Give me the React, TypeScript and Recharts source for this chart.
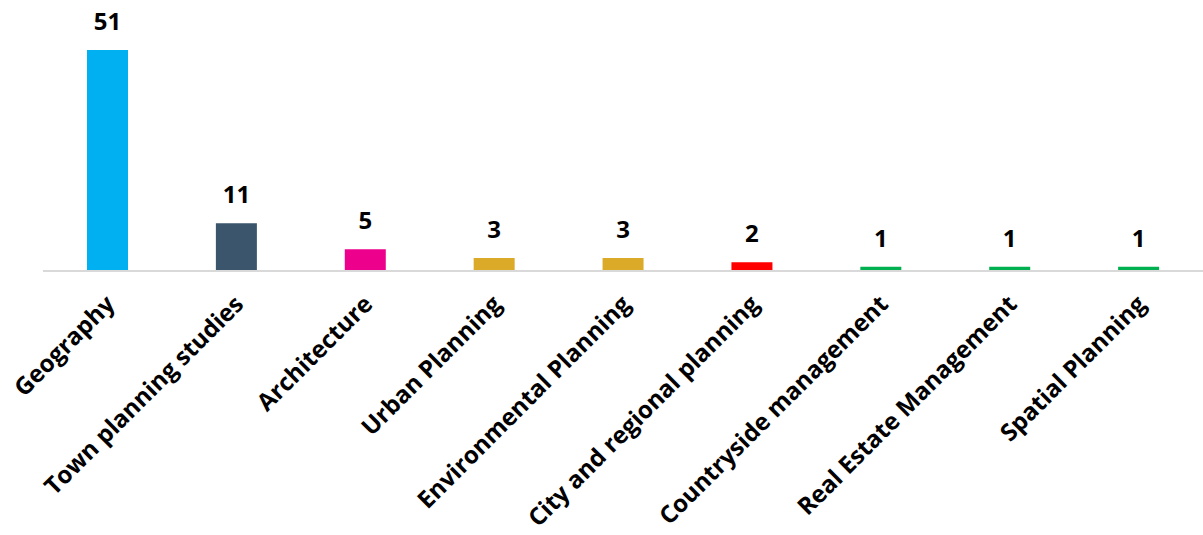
import React from 'react';
import { BarChart, Bar, XAxis, YAxis, Cell, LabelList } from 'recharts';

const categories = [
  'Geography',
  'Town planning studies',
  'Architecture',
  'Urban Planning',
  'Environmental Planning',
  'City and regional planning',
  'Countryside management',
  'Real Estate Management',
  'Spatial Planning',
];
const counts = [51, 11, 5, 3, 3, 2, 1, 1, 1];
const colors = ['#00B0F0', '#3B556D', '#EC008C', '#DAAA28', '#DAAA28', '#FF0000', '#00B050', '#00B050', '#00B050'];

const data = categories.map((name, i) => ({ name, value: counts[i] }));

const FONT = '"Open Sans", Lato, sans-serif';

const Tick = (props: any) => {
  const { x, payload } = props;
  return (
    <g transform={`translate(${x + 2},${299})`}>
      <text
        x={0}
        y={0}
        textAnchor="end"
        dominantBaseline="central"
        transform="rotate(-45)"
        fontFamily={FONT}
        fontWeight={700}
        fontSize={24}
        fill="#000"
      >
        {payload.value}
      </text>
    </g>
  );
};

export default function App() {
  return (
    <div style={{ position: 'absolute', left: 0, top: 0, width: 1203, height: 535, background: '#fff' }}>
      <BarChart
        width={1203}
        height={535}
        data={data}
        margin={{ top: 50, right: 0, bottom: 0, left: 43 }}
        barCategoryGap={0}
      >
        <YAxis hide domain={[0, 51]} />
        <XAxis
          dataKey="name"
          interval={0}
          height={264}
          tickLine={false}
          axisLine={{ stroke: '#D9D9D9', strokeWidth: 2 }}
          tick={<Tick />}
        />
        <Bar dataKey="value" barSize={41} isAnimationActive={false}>
          {data.map((d, i) => (
            <Cell key={d.name} fill={colors[i]} />
          ))}
          <LabelList
            dataKey="value"
            position="top"
            offset={20}
            fill="#000"
            fontFamily={FONT}
            fontWeight={700}
            fontSize={24}
          />
        </Bar>
      </BarChart>
    </div>
  );
}
